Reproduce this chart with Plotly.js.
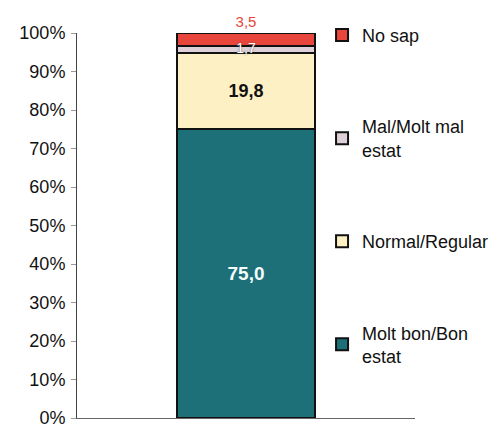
<!DOCTYPE html>
<html><head><meta charset="utf-8">
<script src="https://cdn.plot.ly/plotly-3.0.1.min.js"></script>
<style>html,body{margin:0;padding:0;background:#fff}#chart{width:502px;height:424px}</style>
</head><body><div id="chart"></div>
<script>
const category = [""];
const seriesNames = ["Molt bon/Bon<br>estat", "Normal/Regular", "Mal/Molt mal<br>estat", "No sap"];
const molt_bon = [75.0];
const normal = [19.8];
const mal = [1.7];
const no_sap = [3.5];
const tickVals = [0,10,20,30,40,50,60,70,80,90,100];
const tickText = ["0%","10%","20%","30%","40%","50%","60%","70%","80%","90%","100%"];

const values = [molt_bon, normal, mal, no_sap];
const colors = ["#1d7078", "#fdf0c4", "#ddd0d8", "#e8453c"];
const textColors = ["#f4fbfb", "#111111", "#ffffff", "#e8453c"];
const textSizes = [19, 18, 14, 15];
const positions = ["inside", "inside", "none", "outside"];
const fmt = n => n.toFixed(1).replace(".", ",");

const traces = values.map((v, i) => ({
  type: "bar",
  x: category,
  y: v,
  name: seriesNames[i],
  legendgroup: "g" + i,
  legendrank: 4 - i,
  marker: {color: colors[i], line: {color: "#111", width: 2}},
  width: 0.41,
  text: v.map(fmt),
  textposition: positions[i],
  textangle: 0,
  constraintext: "none",
  insidetextanchor: "middle",
  cliponaxis: false,
  textfont: {color: textColors[i], size: textSizes[i], family: "Liberation Sans, Arial, sans-serif", weight: i < 2 ? "bold" : "normal"},
  hoverinfo: "skip"
}));

// label for the thin "Mal" segment, placed at the middle of its stacked segment
traces.push({
  type: "scatter",
  mode: "text",
  x: category,
  y: mal.map((m, k) => molt_bon[k] + normal[k] + m / 2),
  text: mal.map(fmt),
  textposition: "middle center",
  textfont: {color: "#ffffff", size: 14, family: "Liberation Sans, Arial, sans-serif", shadow: "0px 0px 2px #555"},
  showlegend: false,
  cliponaxis: false,
  hoverinfo: "skip"
});

const layout = {
  width: 502, height: 424,
  margin: {l: 77, r: 87, t: 33, b: 6},
  barmode: "stack",
  paper_bgcolor: "#fff", plot_bgcolor: "#fff",
  font: {family: "Liberation Sans, Arial, sans-serif", color: "#111"},
  showlegend: true,
  legend: {
    x: 0.725, xanchor: "left", y: 1.042, yanchor: "top",
    traceorder: "grouped",
    tracegroupgap: 65,
    font: {size: 18, color: "#111"},
    bgcolor: "rgba(0,0,0,0)",
    itemwidth: 30,
    maxheight: 1
  },
  xaxis: {
    range: [-0.5, 0.5], showticklabels: false, ticks: "",
    showline: true, linecolor: "#666", linewidth: 1, showgrid: false, zeroline: false, fixedrange: true
  },
  yaxis: {
    range: [0, 100], tickvals: tickVals, ticktext: tickText,
    ticks: "outside", ticklen: 5, tickcolor: "#999",
    showline: true, linecolor: "#444", linewidth: 1,
    showgrid: false, zeroline: false,
    ticklabeloverflow: "allow",
    tickfont: {size: 18, color: "#111"}, ticklabelstandoff: 2
  }
};

Plotly.newPlot("chart", traces, layout, {displayModeBar: false, staticPlot: true});
</script>
</body></html>
